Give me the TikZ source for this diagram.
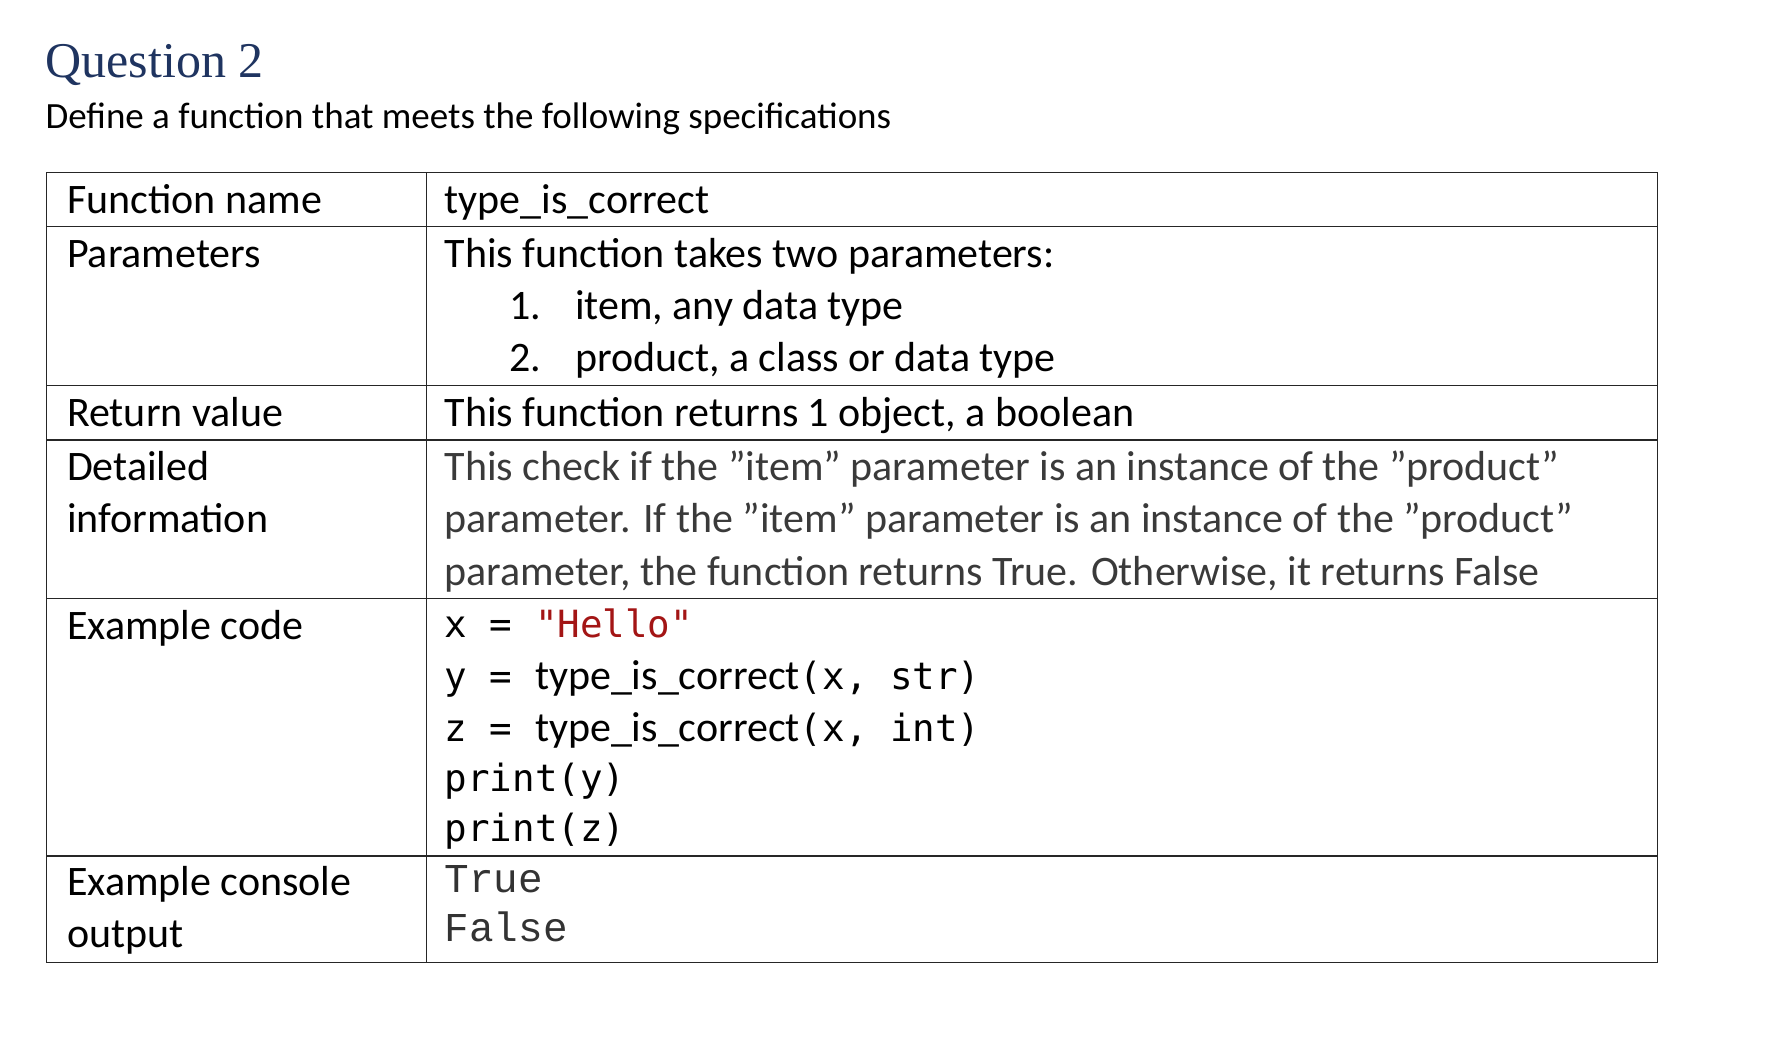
\documentclass[tikz,border=0pt]{standalone}
\usepackage{fontspec}
\defaultfontfeatures{}
\setmainfont{Carlito}
\newfontfamily\titlefont{Liberation Serif}
\newfontfamily\codefont{DejaVu Sans Mono}
\newfontfamily\consfont{Liberation Mono}
\definecolor{navy}{HTML}{1F3460}
\definecolor{strred}{HTML}{A31515}
\definecolor{graytxt}{HTML}{3A3A3A}
\newcommand\qq[1]{\symbol{34}#1\symbol{34}}
\begin{document}
\begin{tikzpicture}[x=1.134pt,y=-1.134pt,
  txt/.style={anchor=base west,inner sep=0pt,font=\fontsize{42}{50}\selectfont},
  code/.style={anchor=base west,inner sep=0pt,font=\codefont\fontsize{37.5}{44}\selectfont},
  grid/.style={line width=1.3pt,black!85}]
\useasboundingbox (0,0) rectangle (1568,935);
\node[anchor=base west,inner sep=0pt,font=\titlefont\fontsize{50}{56}\selectfont,text=navy] (title) at (40,68) {Question 2};
\node[txt,font=\fontsize{37}{44}\selectfont] (sub) at (40,113) {Define a function that meets the following specifications};
% grid
\draw[grid] (41,152) rectangle (1462,849);
\draw[grid] (376,152) -- (376,849);
\foreach \yy in {200,340,388,528,755} \draw[grid] (41,\yy) -- (1462,\yy);
% left column
\node[txt] (l1) at (59,188) {Function name};
\node[txt] (l2) at (59,236) {Parameters};
\node[txt] (l3) at (59,376) {Return value};
\node[txt] (l4) at (59,424) {Detailed};
\node[txt] (l4b) at (59,470) {information};
\node[txt] (l5) at (59,564) {Example code};
\node[txt] (l6) at (59,790) {Example console};
\node[txt] (l6b) at (59,836) {output};
% right column
\node[txt] (r1) at (392,188) {type\_is\_correct};
\node[txt] (r2) at (392,236) {This function takes two parameters:};
\node[txt] (r2a) at (449,282) {1.};
\node[txt] (r2b) at (507,282) {item, any data type};
\node[txt] (r2c) at (449,328) {2.};
\node[txt] (r2d) at (507,328) {product, a class or data type};
\node[txt] (r3) at (392,376) {This function returns 1 object, a boolean};
\node[txt,text=graytxt] (r4a) at (392,424) {This check if the \qq{item} parameter is an instance of the \qq{product}};
\node[txt,text=graytxt] (r4b) at (392,470) {parameter. If the \qq{item} parameter is an instance of the \qq{product}};
\node[txt,text=graytxt] (r4c) at (392,516) {parameter, the function returns True. Otherwise, it returns False};
\node[code] (c1) at (392,562) {x = \textcolor{strred}{"Hello"}};
\node[code] (c2) at (392,608) {y = {\fontspec{Carlito}\fontsize{42}{50}\selectfont type\_is\_correct}(x, str)};
\node[code] (c3) at (392,654) {z = {\fontspec{Carlito}\fontsize{42}{50}\selectfont type\_is\_correct}(x, int)};
\node[code] (c4) at (392,698) {print(y)};
\node[code] (c5) at (392,742) {print(z)};
\node[anchor=base west,inner sep=0pt,font=\consfont\fontsize{41}{48}\selectfont,text=black!80] (o1) at (392,787) {True};
\node[anchor=base west,inner sep=0pt,font=\consfont\fontsize{41}{48}\selectfont,text=black!80] (o2) at (392,830) {False};
\end{tikzpicture}
\end{document}
